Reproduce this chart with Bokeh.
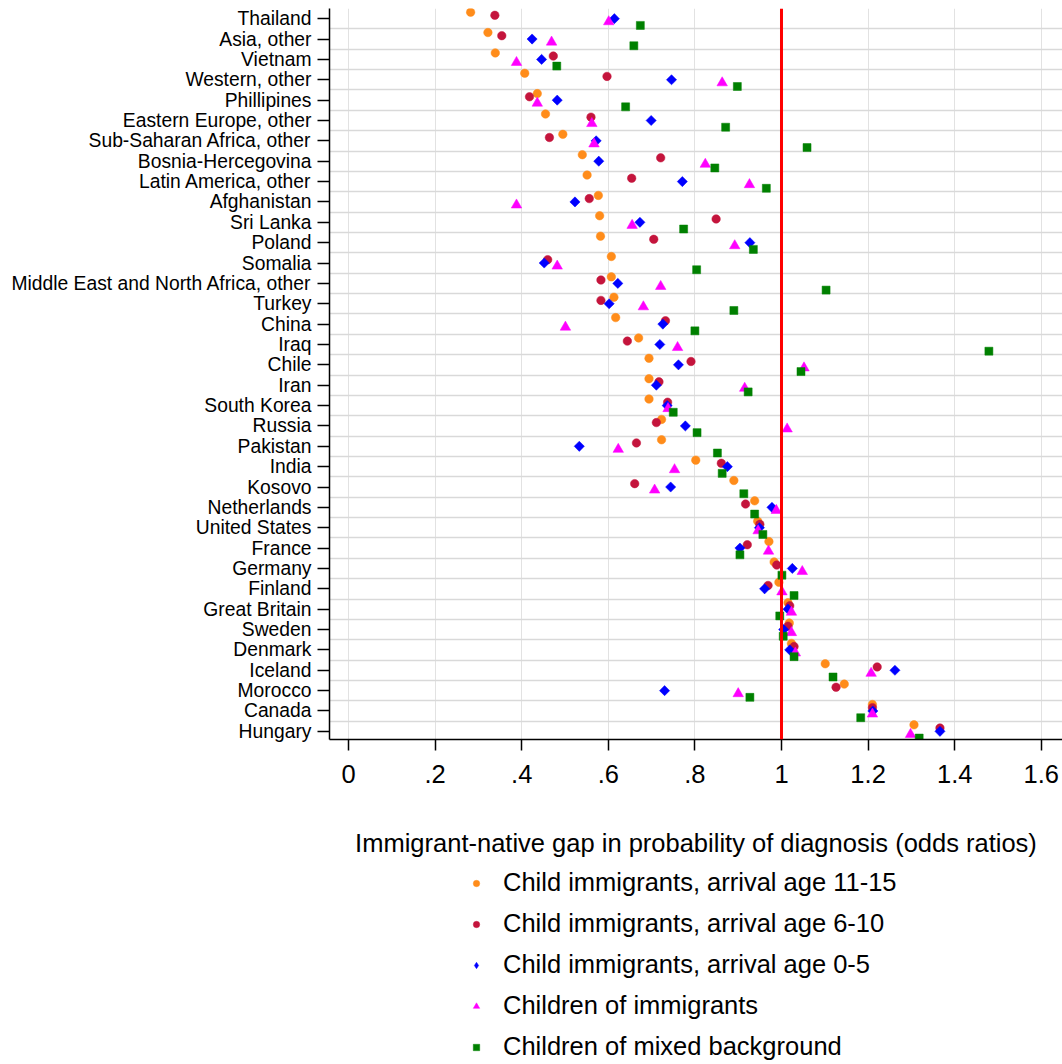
import numpy as np
from bokeh.plotting import figure
from bokeh.layouts import column
from bokeh.models import Range1d, FixedTicker, Legend, LegendItem, Span, ColumnDataSource
from bokeh.embed import file_html
from bokeh.resources import INLINE

countries = ["Thailand", "Asia, other", "Vietnam", "Western, other", "Phillipines",
             "Eastern Europe, other", "Sub-Saharan Africa, other", "Bosnia-Hercegovina",
             "Latin America, other", "Afghanistan", "Sri Lanka", "Poland", "Somalia",
             "Middle East and North Africa, other", "Turkey", "China", "Iraq", "Chile",
             "Iran", "South Korea", "Russia", "Pakistan", "India", "Kosovo", "Netherlands",
             "United States", "France", "Germany", "Finland", "Great Britain", "Sweden",
             "Denmark", "Iceland", "Morocco", "Canada", "Hungary"]

age_11_15 = [0.282, 0.322, 0.339, 0.407, 0.436, 0.455, 0.495, 0.540, 0.551, 0.577, 0.580, 0.582,
             0.607, 0.607, 0.613, 0.617, 0.670, 0.694, 0.694, 0.694, 0.723, 0.723, 0.802, 0.890,
             0.938, 0.945, 0.971, 0.983, 0.994, 1.015, 1.018, 1.023, 1.101, 1.145, 1.210, 1.306]
age_6_10 = [0.338, 0.354, 0.473, 0.597, 0.418, 0.560, 0.464, 0.721, 0.654, 0.556, 0.849, 0.705,
            0.460, 0.583, 0.583, 0.732, 0.644, 0.791, 0.717, 0.737, 0.711, 0.665, 0.861, 0.661,
            0.917, 0.950, 0.921, 0.989, 0.969, 1.019, 1.015, 1.029, 1.221, 1.126, 1.210, 1.366]
age_0_5 = [0.614, 0.424, 0.446, 0.746, 0.482, 0.699, 0.572, 0.578, 0.771, 0.523, 0.673, 0.927,
           0.452, 0.622, 0.602, 0.726, 0.719, 0.762, 0.711, 0.736, 0.778, 0.533, 0.875, 0.744,
           0.978, 0.949, 0.904, 1.025, 0.961, 1.015, 1.005, 1.019, 1.262, 0.730, 1.211, 1.366]
children_of_immigrants = [0.601, 0.469, 0.388, 0.863, 0.436, 0.562, 0.567, 0.824, 0.926, 0.388,
                          0.655, 0.892, 0.482, 0.721, 0.681, 0.501, 0.760, 1.052, 0.915, 0.738,
                          1.013, 0.623, 0.753, 0.707, 0.988, 0.946, 0.970, 1.048, 1.001, 1.023,
                          1.023, 1.032, 1.207, 0.900, 1.210, 1.298]
mixed_background = [0.674, 0.659, 0.481, 0.898, 0.640, 0.871, 1.059, 0.846, 0.965, float("nan"),
                    0.774, 0.935, 0.804, 1.103, 0.890, 0.800, 1.479, 1.045, 0.923, 0.750,
                    0.805, 0.852, 0.863, 0.913, 0.938, 0.957, 0.904, 1.001, 1.029, 0.996,
                    1.004, 1.029, 1.119, 0.927, 1.183, 1.318]

series_labels = ["Child immigrants, arrival age 11-15", "Child immigrants, arrival age 6-10",
                 "Child immigrants, arrival age 0-5", "Children of immigrants",
                 "Children of mixed background"]

x_ticks = [0, 0.2, 0.4, 0.6, 0.8, 1.0, 1.2, 1.4, 1.6]
x_tick_labels = ["0", ".2", ".4", ".6", ".8", "1", "1.2", "1.4", "1.6"]

FONT = "Liberation Sans"
n = len(countries)
rows = np.arange(n)

p = figure(width=1062, height=860, output_backend="svg", toolbar_location=None,
           x_range=Range1d(-0.0439, 1.649), y_range=Range1d(35.4, -0.5),
           min_border_left=329, min_border_right=0, min_border_top=8, min_border_bottom=121)
p.outline_line_color = None
p.background_fill_color = "white"
p.border_fill_color = "white"

# axes
p.xaxis.ticker = FixedTicker(ticks=x_ticks)
p.xaxis.major_label_overrides = {t: l for t, l in zip(x_ticks, x_tick_labels)}
p.xaxis.axis_label = "Immigrant-native gap in probability of diagnosis (odds ratios)"
p.xaxis.axis_label_text_font = FONT
p.xaxis.axis_label_text_font_style = "normal"
p.xaxis.axis_label_text_font_size = "25.5px"
p.xaxis.axis_label_text_color = "black"
p.xaxis.axis_label_standoff = 43
p.xaxis.major_label_text_font = FONT
p.xaxis.major_label_text_font_size = "25.5px"
p.xaxis.major_label_text_color = "black"
p.xaxis.major_label_standoff = 14
p.xaxis.major_tick_out = 11
p.xaxis.major_tick_in = 0
p.xaxis.minor_tick_out = 0
p.xaxis.minor_tick_in = 0
p.xaxis.axis_line_width = 1.5
p.xaxis.major_tick_line_width = 1.5

p.yaxis.ticker = FixedTicker(ticks=list(range(n)))
p.yaxis.major_label_overrides = {i: c for i, c in enumerate(countries)}
p.yaxis.major_label_text_font = FONT
p.yaxis.major_label_text_font_size = "19.3px"
p.yaxis.major_label_text_color = "black"
p.yaxis.major_label_standoff = 6
p.yaxis.major_tick_out = 12
p.yaxis.major_tick_in = 0
p.yaxis.minor_tick_out = 0
p.yaxis.minor_tick_in = 0
p.yaxis.axis_line_width = 1.5
p.yaxis.major_tick_line_width = 1.5

# grids
p.xgrid.ticker = FixedTicker(ticks=x_ticks)
p.xgrid.grid_line_color = "#e2e2e2"
p.xgrid.grid_line_width = 1
p.ygrid.ticker = FixedTicker(ticks=[k + 0.5 for k in range(n - 1)])
p.ygrid.grid_line_color = "#d9d9d9"
p.ygrid.grid_line_width = 1.5

# reference line at 1
p.add_layout(Span(location=1.0, dimension="height", line_color="#ff0000", line_width=3))

series = [
    (age_11_15, -0.32, "circle", "#ff8c1a", 8.5, 0, "circle"),
    (age_6_10, -0.165, "circle", "#c4143c", 8.5, 0, "circle"),
    (age_0_5, 0.0, "square", "#0000ff", 7.2, np.pi / 4, "diamond"),
    (children_of_immigrants, 0.15, "triangle", "#ff00ff", 10.5, 0, "triangle"),
    (mixed_background, 0.33, "square", "#008000", 8, 0, "square"),
]

# legend figure (keys only; key glyphs hold no drawable data)
lf = figure(width=1062, height=204, output_backend="svg", toolbar_location=None,
            x_range=Range1d(0, 1), y_range=Range1d(0, 1), min_border=0)
lf.axis.visible = False
lf.grid.visible = False
lf.outline_line_color = None
lf.background_fill_color = "white"
lf.border_fill_color = "white"

nan = float("nan")
items = []
for (vals, off, marker, color, size, ang, lmarker), label in zip(series, series_labels):
    src = ColumnDataSource(dict(x=vals, y=rows + off))
    p.scatter("x", "y", source=src, marker=marker, size=size, angle=ang,
              fill_color=color, line_color=color, line_width=0.5)
    key = lf.scatter(x=[nan], y=[nan], marker=lmarker, size=size,
                     fill_color=color, line_color=color, line_width=0.5)
    items.append(LegendItem(label=label, renderers=[key]))

legend = Legend(items=items, location=(139, 3), orientation="vertical")
legend.label_text_font = FONT
legend.label_text_font_size = "25.5px"
legend.label_text_color = "black"
legend.glyph_width = 16
legend.glyph_height = 16
legend.label_height = 29
legend.spacing = 12
legend.label_standoff = 19
legend.border_line_color = None
legend.background_fill_alpha = 0
legend.padding = 0
legend.margin = 0
lf.add_layout(legend, "center")

layout = column(p, lf, spacing=0)
open("out.html", "w").write(file_html(layout, INLINE))
